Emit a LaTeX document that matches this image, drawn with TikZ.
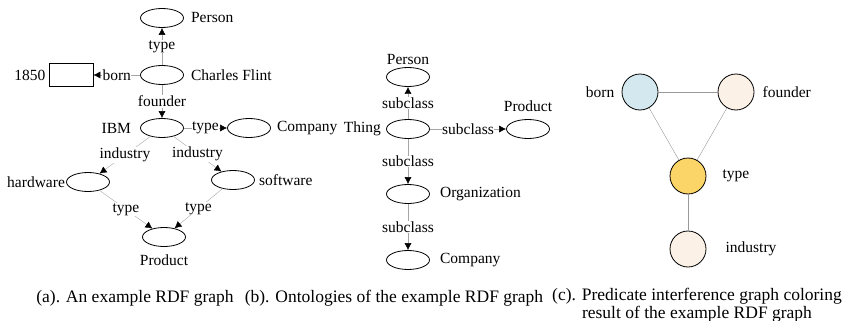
\documentclass[tikz,border=0pt]{standalone}
\usepackage{fontspec}
\setmainfont{Liberation Serif}
\usetikzlibrary{positioning,shapes.geometric,arrows.meta}
\tikzset{
  ent/.style={draw, ellipse, thick, minimum width=43pt, minimum height=19pt, inner sep=0pt},
  lit/.style={draw, thick, minimum width=44pt, minimum height=23pt, inner sep=0pt},
  pred/.style={draw, circle, thick, minimum size=36pt, inner sep=0pt},
  rel/.style={gray!70, -{Latex[black,length=7pt,width=7pt]}},
  tie/.style={gray!80},
  elab/.style={fill=white, inner sep=0.5pt, text=black},
  tag/.style={inner sep=1pt},
  capt/.style={font=\fontsize{17.5}{18.5}\selectfont, align=center, inner sep=0pt}
}
\begin{document}
\begin{tikzpicture}[x=1pt, y=-1pt, font=\fontsize{15.5}{18}\selectfont]
\useasboundingbox (0,0) rectangle (848,321);
% (a) example RDF graph
\node[ent] (pers) at (162,18) {};
\node[ent] (cf) at (162,75) {};
\node[lit] (yr) at (71,75) {};
\node[ent] (ibm) at (162,128) {};
\node[ent] (comp) at (249,128) {};
\node[ent] (hw) at (88,182) {};
\node[ent] (sw) at (233,180) {};
\node[ent] (prod) at (164,237) {};
\node[tag, right=6pt of pers] (persl) {Person};
\node[tag, right=6pt of cf] (cfl) {Charles Flint};
\node[tag, left=2pt of yr] (yrl) {1850};
\node[tag, left=8pt of ibm] (ibml) {IBM};
\node[tag, right=5pt of comp] (compl) {Company};
\node[tag, left=0pt of hw] (hwl) {hardware};
\node[tag, right=3pt of sw] (swl) {software};
\node[tag, below=7pt of prod] (prodl) {Product};
\draw[rel] (cf) -- node[elab]{type} (pers);
\draw[rel] (cf) -- node[elab]{born} (yr);
\draw[rel] (cf) -- node[elab]{founder} (ibm);
\draw[rel] (ibm) -- node[elab]{type} (comp);
\draw[rel] (ibm) -- node[elab]{industry} (hw);
\draw[rel] (ibm) -- node[elab]{industry} (sw);
\draw[rel] (hw) -- node[elab]{type} (prod);
\draw[rel] (sw) -- node[elab]{type} (prod);
\node[capt] (capa) at (135,298) {(a). An example RDF graph};
% (b) ontologies
\node[ent] (opers) at (408,77) {};
\node[ent] (thing) at (408,129) {};
\node[ent] (oprod) at (528,129) {};
\node[ent] (org) at (408,194) {};
\node[ent] (ocomp) at (408,260) {};
\node[tag, above=1pt of opers] (opersl) {Person};
\node[tag, left=4pt of thing] (thingl) {Thing};
\node[tag, above=6pt of oprod] (oprodl) {Product};
\node[tag, right=9pt of org] (orgl) {Organization};
\node[tag, right=9pt of ocomp] (ocompl) {Company};
\draw[rel] (thing) -- node[elab]{subclass} (opers);
\draw[rel] (thing) -- node[elab]{subclass} (oprod);
\draw[rel] (thing) -- node[elab]{subclass} (org);
\draw[rel] (org) -- node[elab]{subclass} (ocomp);
\node[capt] (capb) at (394,298) {(b). Ontologies of the example RDF graph};
% (c) interference graph
\node[pred, fill={rgb,255:red,212;green,232;blue,239}] (born) at (640,92) {};
\node[pred, fill={rgb,255:red,251;green,241;blue,230}] (fdr) at (736,92) {};
\node[pred, fill={rgb,255:red,251;green,213;blue,103}] (typ) at (688,176) {};
\node[pred, fill={rgb,255:red,251;green,241;blue,230}] (ind) at (688,249) {};
\node[tag, left=6pt of born] (bornl) {born};
\node[tag, right=7pt of fdr] (fdrl) {founder};
\node[tag, right=15pt of typ] (typl) {type};
\node[tag, right=18pt of ind] (indl) {industry};
\draw[tie] (born) -- (fdr);
\draw[tie] (born) -- (typ);
\draw[tie] (fdr) -- (typ);
\draw[tie] (typ) -- (ind);
\node[capt] (capc) at (697,305) {(c). Predicate interference graph coloring\\result of the example RDF graph};
\end{tikzpicture}
\end{document}
